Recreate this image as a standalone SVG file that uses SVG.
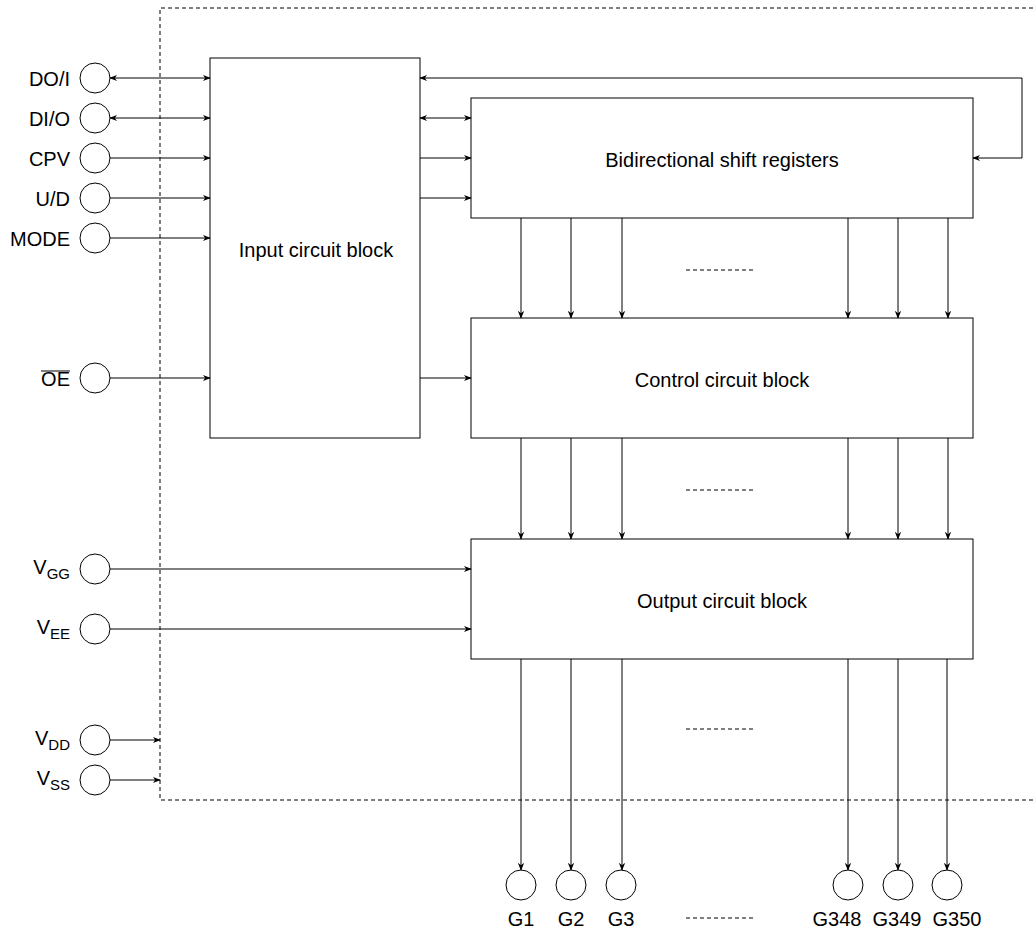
<svg xmlns="http://www.w3.org/2000/svg" width="1034" height="934" viewBox="0 0 1034 934">
<defs>
<marker id="ah" viewBox="0 0 10 10" refX="9" refY="5" markerWidth="8" markerHeight="8" markerUnits="userSpaceOnUse" orient="auto-start-reverse">
<path d="M0,1 L10,5 L0,9 L3,5 z" fill="#000"/>
</marker>
<style>
.box{fill:#fff;stroke:#000;stroke-width:1}
.pin{fill:#fff;stroke:#000;stroke-width:1}
.ln{fill:none;stroke:#000;stroke-width:1}
.arr{fill:none;stroke:#000;stroke-width:1;marker-end:url(#ah)}
.bi{fill:none;stroke:#000;stroke-width:1;marker-end:url(#ah);marker-start:url(#ah)}
.dash{fill:none;stroke:#000;stroke-width:1;stroke-dasharray:4 3}
text{font-family:"Liberation Sans",Arial,sans-serif;font-size:20px;fill:#000}
.r{text-anchor:end}
.c{text-anchor:middle}
.sub{font-size:15px}
</style>
</defs>
<rect width="1034" height="934" fill="#fff"/>
<path class="dash" d="M1040,8 L160,8 L160,800 L1040,800"/>

<g id="input-block"><rect class="box" x="210" y="58" width="210" height="380"/><text class="c" x="316" y="257">Input circuit block</text></g>
<g id="shift-registers"><rect class="box" x="471" y="98" width="502" height="120"/><text class="c" x="722" y="167">Bidirectional shift registers</text></g>
<g id="control-block"><rect class="box" x="471" y="318" width="502" height="120"/><text class="c" x="722" y="387">Control circuit block</text></g>
<g id="output-block"><rect class="box" x="471" y="539" width="502" height="120"/><text class="c" x="722" y="608">Output circuit block</text></g>

<g id="pin-DOI"><circle class="pin" cx="95" cy="78" r="15"/><text class="r" x="70" y="86">DO/I</text></g>
<g id="pin-DIO"><circle class="pin" cx="95" cy="118" r="15"/><text class="r" x="70" y="126">DI/O</text></g>
<g id="pin-CPV"><circle class="pin" cx="95" cy="158" r="15"/><text class="r" x="70" y="166">CPV</text></g>
<g id="pin-UD"><circle class="pin" cx="95" cy="198" r="15"/><text class="r" x="70" y="206">U/D</text></g>
<g id="pin-MODE"><circle class="pin" cx="95" cy="238" r="15"/><text class="r" x="70" y="246">MODE</text></g>
<g id="pin-OE"><circle class="pin" cx="95" cy="378" r="15"/><text class="r" x="70" y="386">OE</text><line class="ln" x1="41" y1="371" x2="70" y2="371"/></g>
<g id="pin-VGG"><circle class="pin" cx="95" cy="569" r="15"/><text class="r" x="70" y="574">V<tspan class="sub" dy="5">GG</tspan></text></g>
<g id="pin-VEE"><circle class="pin" cx="95" cy="629" r="15"/><text class="r" x="70" y="634">V<tspan class="sub" dy="5">EE</tspan></text></g>
<g id="pin-VDD"><circle class="pin" cx="95" cy="740" r="15"/><text class="r" x="70" y="745">V<tspan class="sub" dy="5">DD</tspan></text></g>
<g id="pin-VSS"><circle class="pin" cx="95" cy="780" r="15"/><text class="r" x="70" y="785">V<tspan class="sub" dy="5">SS</tspan></text></g>

<g id="pin-G1"><circle class="pin" cx="521" cy="885" r="15"/><text class="c" x="521" y="926">G1</text></g>
<g id="pin-G2"><circle class="pin" cx="571" cy="885" r="15"/><text class="c" x="571" y="926">G2</text></g>
<g id="pin-G3"><circle class="pin" cx="621" cy="885" r="15"/><text class="c" x="621" y="926">G3</text></g>
<g id="pin-G348"><circle class="pin" cx="848" cy="885" r="15"/><text class="c" x="837" y="926">G348</text></g>
<g id="pin-G349"><circle class="pin" cx="898" cy="885" r="15"/><text class="c" x="897" y="926">G349</text></g>
<g id="pin-G350"><circle class="pin" cx="947" cy="885" r="15"/><text class="c" x="957" y="926">G350</text></g>

<g id="ellipses">
<line class="dash" x1="686" y1="270" x2="753" y2="270"/>
<line class="dash" x1="686" y1="490" x2="753" y2="490"/>
<line class="dash" x1="686" y1="729" x2="753" y2="729"/>
<line class="dash" x1="686" y1="918" x2="753" y2="918"/>
</g>

<g id="connectors">
<line class="bi" x1="110" y1="78" x2="210" y2="78"/>
<line class="bi" x1="110" y1="118" x2="210" y2="118"/>
<line class="arr" x1="110" y1="158" x2="210" y2="158"/>
<line class="arr" x1="110" y1="198" x2="210" y2="198"/>
<line class="arr" x1="110" y1="238" x2="210" y2="238"/>
<line class="arr" x1="110" y1="378" x2="210" y2="378"/>
<line class="arr" x1="110" y1="569" x2="471" y2="569"/>
<line class="arr" x1="110" y1="629" x2="471" y2="629"/>
<line class="arr" x1="110" y1="740" x2="160" y2="740"/>
<line class="arr" x1="110" y1="780" x2="160" y2="780"/>
<path class="bi" d="M420,78 L1022,78 L1022,158 L973,158"/>
<line class="bi" x1="420" y1="118" x2="471" y2="118"/>
<line class="arr" x1="420" y1="158" x2="471" y2="158"/>
<line class="arr" x1="420" y1="198" x2="471" y2="198"/>
<line class="arr" x1="420" y1="378" x2="471" y2="378"/>
<line class="arr" x1="521" y1="218" x2="521" y2="318"/>
<line class="arr" x1="571" y1="218" x2="571" y2="318"/>
<line class="arr" x1="622" y1="218" x2="622" y2="318"/>
<line class="arr" x1="848" y1="218" x2="848" y2="318"/>
<line class="arr" x1="898" y1="218" x2="898" y2="318"/>
<line class="arr" x1="948" y1="218" x2="948" y2="318"/>
<line class="arr" x1="521" y1="438" x2="521" y2="539"/>
<line class="arr" x1="571" y1="438" x2="571" y2="539"/>
<line class="arr" x1="622" y1="438" x2="622" y2="539"/>
<line class="arr" x1="848" y1="438" x2="848" y2="539"/>
<line class="arr" x1="898" y1="438" x2="898" y2="539"/>
<line class="arr" x1="948" y1="438" x2="948" y2="539"/>
<line class="arr" x1="521" y1="659" x2="521" y2="870"/>
<line class="arr" x1="571" y1="659" x2="571" y2="870"/>
<line class="arr" x1="622" y1="659" x2="622" y2="870"/>
<line class="arr" x1="848" y1="659" x2="848" y2="870"/>
<line class="arr" x1="898" y1="659" x2="898" y2="870"/>
<line class="arr" x1="947" y1="659" x2="947" y2="870"/>
</g>
</svg>
